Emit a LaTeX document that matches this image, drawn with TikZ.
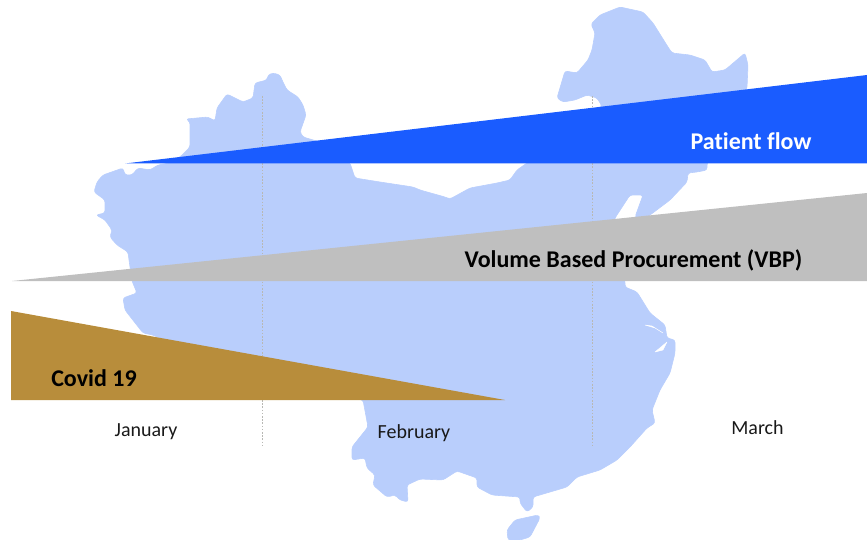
\documentclass[tikz,border=0pt]{standalone}
\usepackage{fontspec}
\setmainfont[Ligatures=NoCommon]{Carlito}
\definecolor{mapblue}{HTML}{B9CEFC}
\definecolor{flowblue}{HTML}{1A5CFF}
\definecolor{vbpgrey}{HTML}{BFBFBF}
\definecolor{covidbrown}{HTML}{B88D3B}
\definecolor{dotgrey}{HTML}{B8B8B4}
\tikzset{
  mapshape/.style={fill=mapblue,draw=mapblue,line width=0.6pt,line join=round,rounded corners=2.5pt},
  inlet/.style={fill=white,draw=white,line width=0.4pt,line join=round},
  wedge/.style={draw=none},
  monthdiv/.style={draw=dotgrey,line width=1.7pt,dash pattern=on 1.6pt off 1.6pt},
  bandlabel/.style={font=\bfseries\fontsize{24}{28}\selectfont,inner sep=0pt,anchor=base},
  monthlabel/.style={font=\fontsize{20}{24}\selectfont,text=black!90,inner sep=0pt,anchor=base}
}
\begin{document}
\begin{tikzpicture}[x=1pt,y=-1pt]
\useasboundingbox (0,0) rectangle (867,540);
% map of China
\fill[mapshape] (268,75) -- (273,73) -- (280,75) -- (282,80) -- (287,90) -- (298,97) -- (303,105) -- (306,115) -- (300,132) -- (303,137) -- (320,142)
 -- (350,163) -- (355,178) -- (380,182) -- (413,187) -- (420,190) -- (445,197) -- (450,199) -- (470,188) -- (497,183) -- (510,180) -- (517,170) -- (527,163)
 -- (575,130) -- (602,106) -- (597,98) -- (587,95) -- (575,100) -- (563,102) -- (557,98) -- (565,71) -- (577,73) -- (588,60) -- (592,50) -- (595,33) -- (591,24) -- (600,15) -- (620,7) -- (643,12) -- (653,23) -- (668,47) -- (672,53) -- (690,55) -- (705,60) -- (712,72) -- (725,70) -- (745,53) -- (748,65) -- (747,88)
 -- (720,150) -- (707,163) -- (707,170) -- (697,172) -- (688,173) -- (687,182) -- (670,200) -- (650,215) -- (640,222) -- (635,217) -- (643,195) -- (630,195) -- (615,218) -- (612,230)
 -- (625,281) -- (625,287) -- (637,292) -- (650,313) -- (665,325) -- (667,338) -- (675,340) -- (675,353) -- (670,373) -- (660,390) -- (652,410) -- (655,423) -- (647,428) -- (630,447) -- (617,460) -- (600,470) -- (577,477) -- (567,487) -- (533,497)
 -- (533,507) -- (527,512) -- (520,503) -- (520,497)
 -- (492,495) -- (477,487) -- (477,478) -- (457,471) -- (443,480) -- (420,479) -- (407,485) -- (408,502) -- (400,500) -- (395,495) -- (387,497) -- (373,485) -- (375,475) -- (367,468) -- (365,458) -- (352,460) -- (352,447) -- (368,427) -- (363,400)
 -- (300,390) -- (157,337) -- (153,335) -- (143,333) -- (125,310) -- (123,298) -- (137,293) -- (132,281)
 -- (129,260) -- (128,252) -- (117,245) -- (110,237) -- (112,230) -- (105,220) -- (96,215) -- (105,213) -- (105,200) -- (94,192) -- (97,182) -- (103,175) -- (123,168) -- (125,175) -- (132,175) -- (138,168) -- (150,170) -- (158,165) -- (170,163)
 -- (180,157) -- (190,147) -- (190,122) -- (186,119) -- (208,117) -- (215,121) -- (217,108) -- (227,94) -- (243,102) -- (253,98) -- (255,83) -- (267,80) -- cycle;
% Hainan
\fill[mapshape] (507,530) -- (515,520) -- (538,515) -- (540,518) -- (530,537) -- (520,540) -- (508,540) -- cycle;
% inlets
\fill[inlet] (645,325) -- (652,326) -- (663,333) -- (655,328) -- cycle;
\fill[inlet] (655,352) -- (667,342) -- (663,350) -- cycle;
% month dividers
\coordinate (divAtop) at (262.5,96);
\coordinate (divAbot) at (262.5,445);
\coordinate (divBtop) at (592.5,96);
\coordinate (divBbot) at (592.5,445);
\draw[monthdiv] (divAtop) -- (divAbot);
\draw[monthdiv] (divBtop) -- (divBbot);
% wedges
\fill[flowblue,wedge] (125,163.5) -- (867,75) -- (867,163.5) -- cycle;
\fill[vbpgrey,wedge] (12,281) -- (867,193) -- (867,281) -- cycle;
\fill[covidbrown,wedge] (11,311) -- (11,400) -- (505,400) -- cycle;
% labels
\node[bandlabel,text=white] (patient) at (751,149.5) {Patient flow};
\node[bandlabel,text=black] (vbp) at (633.5,267) {Volume Based Procurement (VBP)};
\node[bandlabel,text=black] (covid) at (94,386) {Covid 19};
\node[monthlabel] (jan) at (146,436.7) {January};
\node[monthlabel] (feb) at (414,438.7) {February};
\node[monthlabel] (mar) at (757.5,434.7) {March};
\end{tikzpicture}
\end{document}
